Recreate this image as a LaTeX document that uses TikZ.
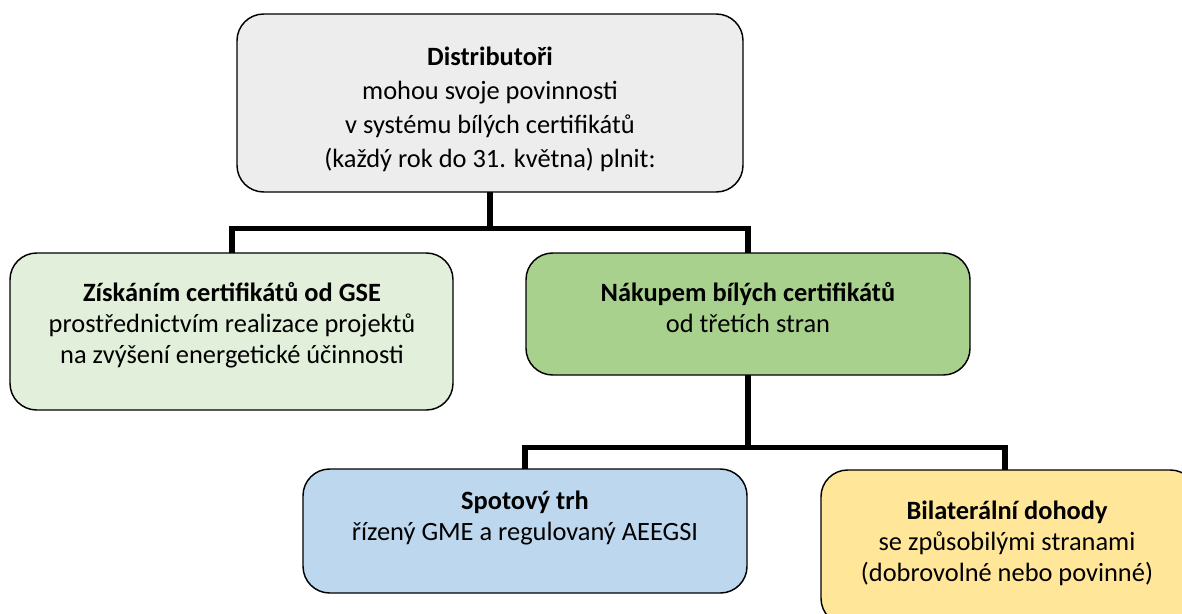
\documentclass[tikz,border=0pt]{standalone}
\usepackage{fontspec}
\setmainfont{Carlito}
\definecolor{topgray}{HTML}{EDEDED}
\definecolor{lightgreen}{HTML}{E2EFDA}
\definecolor{midgreen}{HTML}{A9D18E}
\definecolor{lightblue}{HTML}{BDD7EE}
\definecolor{lightyellow}{HTML}{FFE699}
\begin{document}
\begin{tikzpicture}[x=0.75pt,y=-0.75pt,
  box/.style={draw=black,line width=1.1pt,rounded corners=20pt,inner sep=0pt,outer sep=0pt},
  conn/.style={line width=4.2pt,black},
  txt/.style={align=center,inner sep=0pt,anchor=base,text=black,font=\fontsize{19.8}{23}\selectfont}]
\useasboundingbox (0,0) rectangle (1182,614);
\clip (0,0) rectangle (1182,614);
% boxes
\node[box,fill=topgray,minimum width=379.5pt,minimum height=133.5pt] (top) at (490,103) {};
\node[box,fill=lightgreen,minimum width=332.25pt,minimum height=117.75pt] (gse) at (231.5,331.5) {};
\node[box,fill=midgreen,minimum width=333pt,minimum height=91.5pt] (buy) at (748,314) {};
\node[box,fill=lightblue,minimum width=333pt,minimum height=93pt] (spot) at (525,531) {};
\node[box,fill=lightyellow,minimum width=282pt,minimum height=116.25pt] (bil) at (1009,547.5) {};
% connectors
\coordinate (j1) at (490,228.5);
\coordinate (j2) at (748,447.5);
\draw[conn] (top.south) -- (j1);
\draw[conn] (gse.north -| 232,0) |- (j1) -| (buy.north);
\draw[conn] (buy.south) -- (j2);
\draw[conn] (spot.north) |- (j2) -| (bil.north -| 1005,0);
% texts (anchor base = last line)
\node[txt,font=\fontsize{19.8}{25.5}\selectfont] (topt) at (490,167)
  {\textbf{Distributoři}\\mohou svoje povinnosti\\v systému bílých certifikátů\\(každý rok do 31. května) plnit:};
\node[txt] (gset) at (232,363)
  {\textbf{Získáním certifikátů od GSE}\\prostřednictvím realizace projektů\\na zvýšení energetické účinnosti};
\node[txt] (buyt) at (748,332)
  {\textbf{Nákupem bílých certifikátů}\\od třetích stran};
\node[txt] (spott) at (525,540)
  {\textbf{Spotový trh}\\řízený GME a regulovaný AEEGSI};
\node[txt] (bilt) at (1007,581)
  {\textbf{Bilaterální dohody}\\se způsobilými stranami\\(dobrovolné nebo povinné)};
\end{tikzpicture}
\end{document}
